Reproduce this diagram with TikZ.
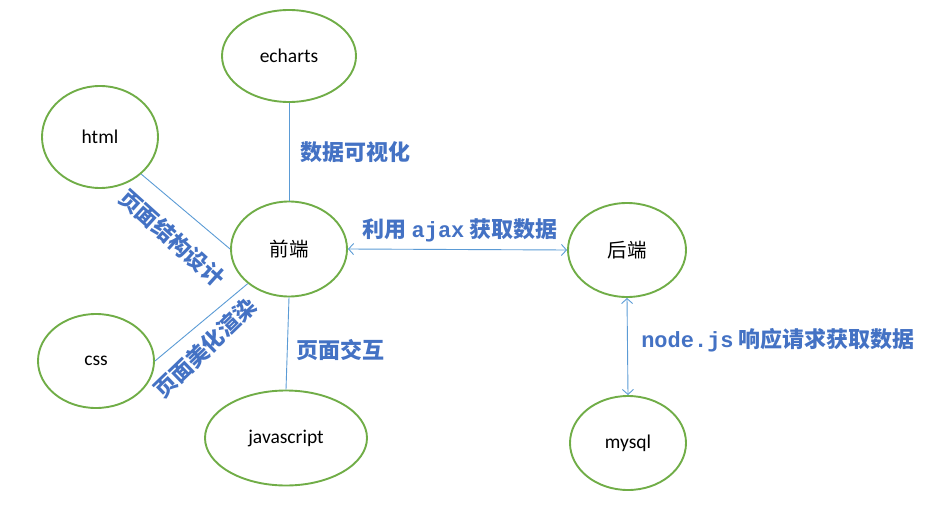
\documentclass[tikz,border=0pt]{standalone}
\usepackage{fontspec}
\setmainfont{Carlito}
\newfontfamily\cjk{Noto Sans CJK SC}
\newfontfamily\latm{Liberation Mono}
\usetikzlibrary{shapes.geometric,arrows.meta}
\definecolor{egreen}{HTML}{70AD47}
\definecolor{lblue}{HTML}{5B9BD5}
\definecolor{tblue}{HTML}{4472C4}
\tikzset{
  ell/.style={ellipse,draw=egreen,line width=1.9pt,inner sep=0pt,font=\fontsize{19.5}{22}\selectfont},
  conn/.style={draw=lblue,line width=0.9pt},
  biarrow/.style={conn,{Straight Barb[length=5pt,width=11pt]}-{Straight Barb[length=5pt,width=11pt]}},
  lab/.style={text=tblue,font=\cjk\bfseries\fontsize{22}{26}\selectfont,inner sep=0pt},
}
\begin{document}
\begin{tikzpicture}[x=1pt,y=-1pt]
\useasboundingbox (0,0) rectangle (952,513);
\node[ell,minimum width=134pt,minimum height=92pt] (ec) at (289,56) {echarts};
\node[ell,minimum width=116pt,minimum height=102pt] (html) at (100,137) {html};
\node[ell,minimum width=116pt,minimum height=95pt] (fe) at (289,249) {\cjk 前端};
\node[ell,minimum width=118pt,minimum height=94pt] (be) at (627,250) {\cjk 后端};
\node[ell,minimum width=116pt,minimum height=94pt] (css) at (96,361) {css};
\node[ell,minimum width=162pt,minimum height=95pt] (js) at (286,438) {javascript};
\node[ell,minimum width=116pt,minimum height=94pt] (my) at (628,443) {mysql};
\draw[conn] (ec.south) -- (fe.north);
\draw[conn] (html.-42) -- (fe.west);
\draw[conn] (css.east) -- (fe.-140);
\draw[conn] (fe.south) -- (js.north);
\draw[biarrow] (fe.east) -- (be.west);
\draw[biarrow] (be.south) -- (my.north);
\node[lab] (l1) at (355,152) {数据可视化};
\node[lab,rotate=-42] (l2) at (172,238) {页面结构设计};
\node[lab,rotate=44] (l3) at (205,348) {页面美化渲染};
\node[lab] (l4) at (340,350) {页面交互};
\node[lab] (l5) at (460,230) {利用 {\latm ajax} 获取数据};
\node[lab] (l6) at (778,340) {{\latm node.js} 响应请求获取数据};
\end{tikzpicture}
\end{document}
